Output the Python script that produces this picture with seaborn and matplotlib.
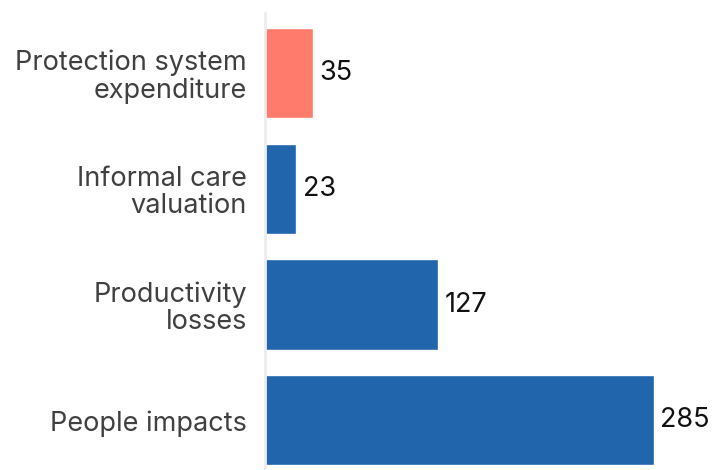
import pandas as pd
import matplotlib
matplotlib.use("Agg")
import matplotlib.pyplot as plt
import seaborn as sns

# data
categories = ["Protection system\nexpenditure", "Informal care\nvaluation",
              "Productivity\nlosses", "People impacts"]
values = [35, 23, 127, 285]
bar_colors = ["#FF7B6B", "#2166AC", "#2166AC", "#2166AC"]

sns.set_theme(style="white")
plt.rcParams['font.family'] = ['Inter', 'DejaVu Sans']

df = pd.DataFrame({"category": categories, "value": values})

fig = plt.figure(figsize=(7.15, 4.7), dpi=100)
ax = fig.add_axes([265 / 715, 0, 1 - 265 / 715, 1 - 13 / 470])

sns.barplot(data=df, x="value", y="category", hue="category",
            palette=bar_colors, saturation=1, width=0.78, legend=False, ax=ax)

for i, v in enumerate(values):
    ax.text(v + 5, i, str(v), va="center", ha="left", fontsize=19.5, color="#111111")

ax.set_xlim(0, 330)
ax.set_ylim(3.43, -0.52)
ax.set_xlabel("")
ax.set_ylabel("")
ax.set_xticks([])
for s in ["top", "right", "bottom"]:
    ax.spines[s].set_visible(False)
ax.spines["left"].set_color("#ececec")
ax.spines["left"].set_linewidth(2)
ax.tick_params(axis="y", length=9, width=1.5, color="#ececec", pad=4,
               labelsize=19.5, labelcolor="#404040")
for lbl in ax.get_yticklabels():
    lbl.set_horizontalalignment("right")
    lbl.set_multialignment("right")
    lbl.set_linespacing(1.05)
    lbl.set_verticalalignment("center_baseline")

fig.savefig("out.png", dpi=100)
